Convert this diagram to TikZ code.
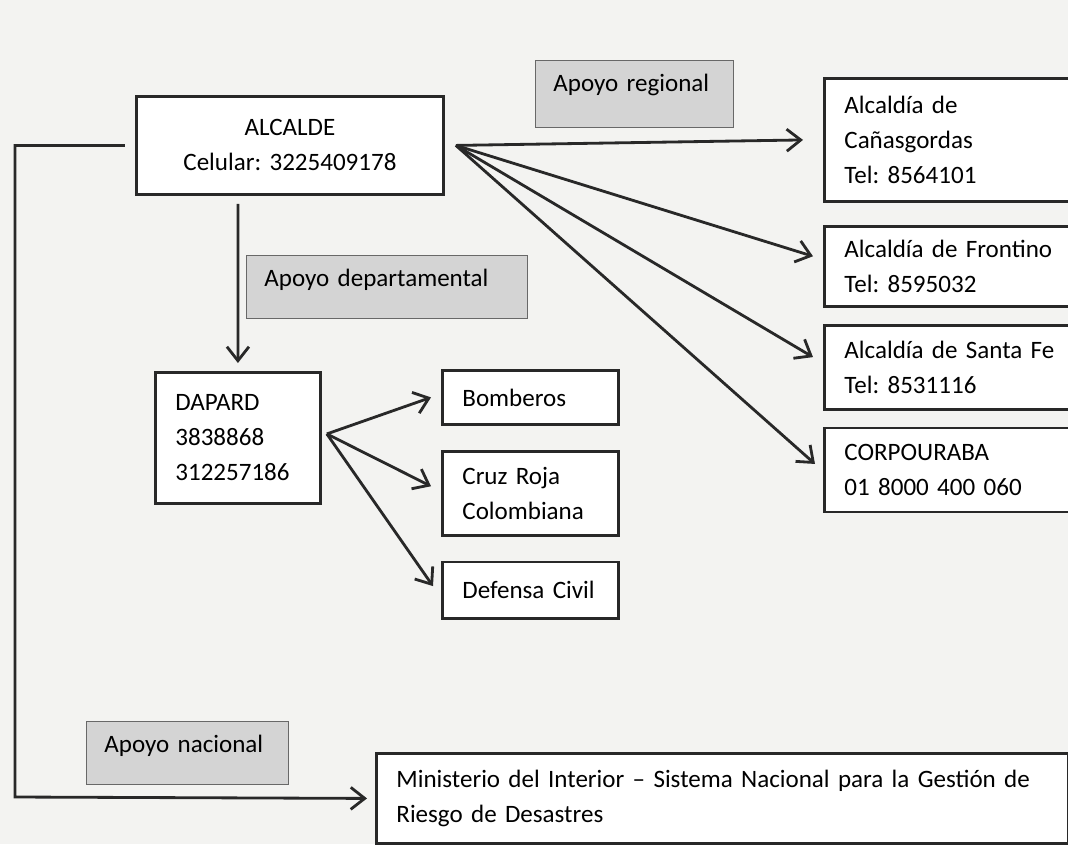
\documentclass[tikz,border=0pt]{standalone}
\usepackage{fontspec}
\setmainfont{Carlito}
\usetikzlibrary{positioning, arrows.meta}
\definecolor{paper_gray}{RGB}{243,243,241}
\definecolor{label_gray}{RGB}{212,212,212}
\definecolor{ink}{RGB}{40,40,40}
\frenchspacing

\begin{document}
\begin{tikzpicture}[x=0.025cm, y=-0.025cm, >={Straight Barb[length=3.5mm, width=5.5mm]},
    font=\fontsize{17.8}{24.9}\selectfont,
    entity/.style={draw=ink, line width=2pt, fill=white, rectangle, anchor=north west, inner xsep=0.5cm, inner ysep=0pt, align=left},
    supportlabel/.style={draw=ink!70, line width=0.6pt, fill=label_gray, rectangle, anchor=north west, inner xsep=0.45cm, inner ysep=0pt, align=left, text height=0.775cm, text depth=0.8cm},
    link/.style={draw=ink, line width=2pt, ->}]

    % Page of the scan.
    \clip (0,0) rectangle (1068,844);
    \fill[paper_gray] (0,0) rectangle (1068,844);

    % --- Begin Alcalde Node ---
    \node [entity, text width=6.675cm, align=center, minimum height=2.45cm] (Alcalde) at (135,95) {
        ALCALDE \\
        Celular: 3225409178
    };
    % --- End Alcalde Node ---

    % --- Begin Support Labels ---
    \node [supportlabel, text width=4.05cm, text depth=0.9cm] (apoyo_regional) at (535,60) {Apoyo regional};
    \node [supportlabel, text width=6.125cm] (apoyo_departamental) at (246,255) {Apoyo departamental};
    \node [supportlabel, text width=4.15cm] (apoyo_nacional) at (86,721) {Apoyo nacional};
    % --- End Support Labels ---

    % --- Begin Departmental Nodes ---
    \node [entity, text width=3.125cm, minimum height=3.275cm] (Dapard) at (154,371) {
        DAPARD \\
        3838868 \\
        312257186
    };
    \node [entity, text width=3.4cm, minimum height=1.35cm] (Bomberos) at (441,369) {Bomberos};
    \node [entity, text width=3.4cm, minimum height=2.1cm, below=0.6cm of Bomberos] (CruzRoja) {
        Cruz Roja \\
        Colombiana
    };
    \node [entity, text width=3.4cm, minimum height=1.4cm, below=0.6cm of CruzRoja] (DefensaCivil) {Defensa Civil};
    % --- End Departmental Nodes ---

    % --- Begin Regional Nodes ---
    \node [entity, text width=5.425cm, minimum height=3.075cm] (Canasgordas) at (823,77) {
        Alcaldía de \\
        Cañasgordas \\
        Tel: 8564101
    };
    \node [entity, text width=5.425cm, minimum height=2cm, below=0.55cm of Canasgordas] (Frontino) {
        Alcaldía de Frontino \\
        Tel: 8595032
    };
    \node [entity, text width=5.425cm, minimum height=2.1cm, below=0.4cm of Frontino] (SantaFe) {
        Alcaldía de Santa Fe \\
        Tel: 8531116
    };
    \node [entity, text width=5.425cm, minimum height=2.1cm, below=0.4cm of SantaFe] (Corpouraba) {
        CORPOURABA \\
        01 8000 400 060
    };
    % --- End Regional Nodes ---

    % --- Begin National Node ---
    \node [entity, text width=16.3cm, minimum height=2.25cm] (Ministerio) at (375,752) {
        Ministerio del Interior – Sistema Nacional para la Gestión de \\
        Riesgo de Desastres
    };
    % --- End National Node ---

    % Connect the nodes.
    \coordinate (left_rail) at (15,797);
    \draw[link] ([xshift=-0.25cm]Alcalde.west) -| (left_rail) -- ([xshift=-0.2cm]Ministerio.west);
    \draw[link] ([xshift=-1.3cm, yshift=-0.2cm]Alcalde.south) -- ([yshift=0.2cm]Dapard.north);

    \draw[link] ([xshift=0.275cm]Alcalde.east) -- ([xshift=-0.5cm]Canasgordas.west);
    \draw[link] ([xshift=0.275cm]Alcalde.east) -- ([xshift=-0.25cm, yshift=0.25cm]Frontino.west);
    \draw[link] ([xshift=0.275cm]Alcalde.east) -- ([xshift=-0.25cm, yshift=0.25cm]SantaFe.west);
    \draw[link] ([xshift=0.275cm]Alcalde.east) -- ([xshift=-0.2cm, yshift=0.15cm]Corpouraba.west);

    \draw[link] ([xshift=0.125cm, yshift=0.1cm]Dapard.east) -- ([xshift=-0.25cm]Bomberos.west);
    \draw[link] ([xshift=0.125cm, yshift=0.1cm]Dapard.east) -- ([xshift=-0.25cm, yshift=0.175cm]CruzRoja.west);
    \draw[link] ([xshift=0.125cm, yshift=0.1cm]Dapard.east) -- ([xshift=-0.2cm, yshift=0.1cm]DefensaCivil.west);

\end{tikzpicture}
\end{document}
